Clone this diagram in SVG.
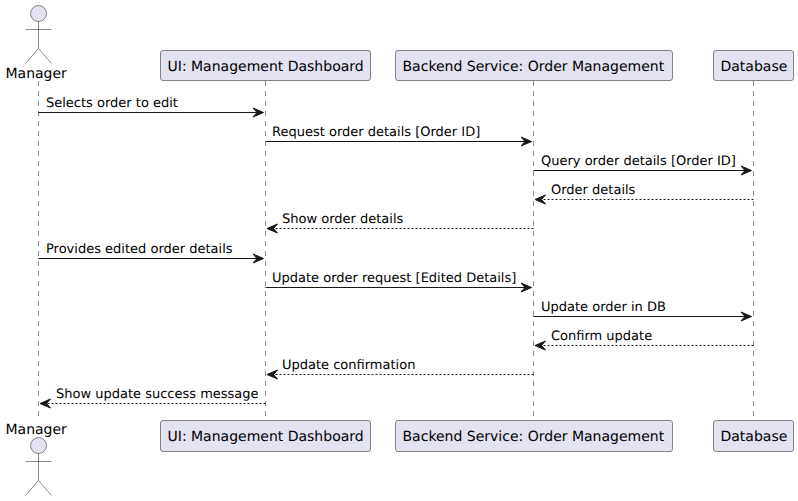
<svg xmlns="http://www.w3.org/2000/svg" width="798" height="501" viewBox="0 0 798 501">
<style>
text{font-family:"DejaVu Sans",sans-serif;fill:#000;text-rendering:geometricPrecision}
.p{font-size:14px}
.m{font-size:13px}
.box{fill:#E2E2F0;stroke:#181818;stroke-width:.5}
.life{stroke:#181818;stroke-width:.5;stroke-dasharray:5,5;fill:none}
.act{fill:#E2E2F0;stroke:#181818;stroke-width:.5}
.lim{fill:none;stroke:#181818;stroke-width:.5}
.s{stroke:#181818;stroke-width:1;fill:none}
.d{stroke:#181818;stroke-width:1;fill:none;stroke-dasharray:2,2}
.h{fill:#181818;stroke:#181818;stroke-width:1}
</style>
<rect width="798" height="501" fill="#fff"/>
<g id="lifelines">
<line class="life" x1="38.5" y1="81" x2="38.5" y2="420"/>
<line class="life" x1="265.5" y1="81" x2="265.5" y2="420"/>
<line class="life" x1="533.5" y1="81" x2="533.5" y2="420"/>
<line class="life" x1="753.5" y1="81" x2="753.5" y2="420"/>
</g>
<g id="manager-top">
<circle class="act" cx="38.5" cy="13.5" r="8"/>
<path class="lim" d="M38.5 21.5V48.5M25.5 29.5H51.5M38.5 48.5L25.5 63.5M38.5 48.5L51.5 63.5"/>
<text class="p" x="5.5" y="77.5">Manager</text>
</g>
<g id="ui-top">
<rect class="box" x="160.5" y="50.5" width="210" height="30" rx="2.5"/>
<text class="p" x="167.5" y="70.5">UI: Management Dashboard</text>
</g>
<g id="backend-top">
<rect class="box" x="395.5" y="50.5" width="277" height="30" rx="2.5"/>
<text class="p" x="402.5" y="70.5">Backend Service: Order Management</text>
</g>
<g id="database-top">
<rect class="box" x="713.5" y="50.5" width="80" height="30" rx="2.5"/>
<text class="p" x="720.5" y="70.5">Database</text>
</g>
<g id="connectors">
<path class="s" d="M38.5 112.5H261"/><path class="h" d="M253 108L263.5 112.5L253 117L257 112.5Z"/>
<path class="s" d="M265.5 141.5H529"/><path class="h" d="M521 137L531.5 141.5L521 146L525 141.5Z"/>
<path class="s" d="M533.5 170.5H749"/><path class="h" d="M741 166L751.5 170.5L741 175L745 170.5Z"/>
<path class="d" d="M753.5 199.5H538"/><path class="h" d="M545.5 195L535 199.5L545.5 204L541.5 199.5Z"/>
<path class="d" d="M533.5 228.5H270"/><path class="h" d="M277.5 224L267 228.5L277.5 233L273.5 228.5Z"/>
<path class="s" d="M38.5 258.5H261"/><path class="h" d="M253 254L263.5 258.5L253 263L257 258.5Z"/>
<path class="s" d="M265.5 287.5H529"/><path class="h" d="M521 283L531.5 287.5L521 292L525 287.5Z"/>
<path class="s" d="M533.5 316.5H749"/><path class="h" d="M741 312L751.5 316.5L741 321L745 316.5Z"/>
<path class="d" d="M753.5 345.5H538"/><path class="h" d="M545.5 341L535 345.5L545.5 350L541.5 345.5Z"/>
<path class="d" d="M533.5 374.5H270"/><path class="h" d="M277.5 370L267 374.5L277.5 379L273.5 374.5Z"/>
<path class="d" d="M265.5 403.5H43"/><path class="h" d="M50.5 399L40 403.5L50.5 408L46.5 403.5Z"/>
</g>
<g id="labels">
<text class="m" x="46" y="107">Selects order to edit</text>
<text class="m" x="272" y="136">Request order details [Order ID]</text>
<text class="m" x="541" y="165">Query order details [Order ID]</text>
<text class="m" x="551" y="194">Order details</text>
<text class="m" x="282" y="223">Show order details</text>
<text class="m" x="46" y="253">Provides edited order details</text>
<text class="m" x="272" y="282">Update order request [Edited Details]</text>
<text class="m" x="541" y="311">Update order in DB</text>
<text class="m" x="551" y="340">Confirm update</text>
<text class="m" x="282" y="369">Update confirmation</text>
<text class="m" x="56" y="398">Show update success message</text>
</g>
<g id="manager-bottom">
<text class="p" x="5.5" y="433.5">Manager</text>
<circle class="act" cx="38.5" cy="445.5" r="8"/>
<path class="lim" d="M38.5 453.5V480.5M25.5 461.5H51.5M38.5 480.5L25.5 495.5M38.5 480.5L51.5 495.5"/>
</g>
<g id="ui-bottom">
<rect class="box" x="160.5" y="420.5" width="210" height="31" rx="2.5"/>
<text class="p" x="167.5" y="441">UI: Management Dashboard</text>
</g>
<g id="backend-bottom">
<rect class="box" x="395.5" y="420.5" width="277" height="31" rx="2.5"/>
<text class="p" x="402.5" y="441">Backend Service: Order Management</text>
</g>
<g id="database-bottom">
<rect class="box" x="713.5" y="420.5" width="80" height="31" rx="2.5"/>
<text class="p" x="720.5" y="441">Database</text>
</g>
</svg>
